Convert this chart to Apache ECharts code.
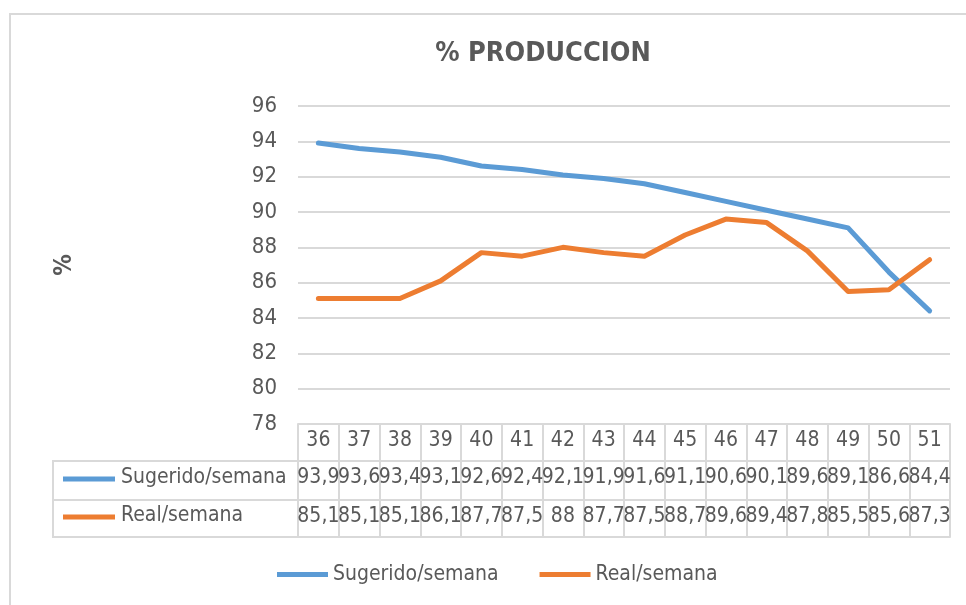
<!DOCTYPE html>
<html>
<head>
<meta charset="utf-8">
<script src="https://cdn.jsdelivr.net/npm/echarts@6/dist/echarts.min.js"></script>
<style>
  html, body { margin: 0; padding: 0; background: #fff; }
  #chart { width: 966px; height: 605px; }
</style>
</head>
<body>
<div id="chart"></div>
<script>
// weeks and weekly production (%)
const weeks = ['36', '37', '38', '39', '40', '41', '42', '43', '44', '45', '46', '47', '48', '49', '50', '51'];
const sugerido = [93.9, 93.6, 93.4, 93.1, 92.6, 92.4, 92.1, 91.9, 91.6, 91.1, 90.6, 90.1, 89.6, 89.1, 86.6, 84.4];
const real = [85.1, 85.1, 85.1, 86.1, 87.7, 87.5, 88, 87.7, 87.5, 88.7, 89.6, 89.4, 87.8, 85.5, 85.6, 87.3];
const seriesNames = ['Sugerido/semana', 'Real/semana'];
const yMin = 78, yMax = 96, yStep = 2;

const FONT = "'DejaVu Sans Condensed', 'DejaVu Sans', sans-serif";
const TXT = '#595959';
const GRID = '#d9d9d9';
const BLUE = '#5B9BD5';
const ORANGE = '#ED7D31';

const fmt = v => String(v).replace('.', ',');

const chart = echarts.init(document.getElementById('chart'));

const tableAxis = (data, offset, extra) => Object.assign({
    type: 'category',
    gridIndex: 0,
    position: 'bottom',
    offset: offset,
    data: data,
    boundaryGap: true,
    axisLine: { show: true, lineStyle: { color: GRID, width: 2 } },
    axisTick: { show: false },
    axisLabel: {
        interval: 0, margin: 6, color: TXT, fontFamily: FONT, fontSize: 21
    },
    splitLine: { show: false }
}, extra || {});

chart.setOption({
    animation: false,
    title: {
        text: '% PRODUCCION',
        left: 538,
        textAlign: 'center',
        top: 35,
        textStyle: { color: TXT, fontFamily: FONT, fontSize: 27, fontWeight: 'bold' }
    },
    legend: {
        data: seriesNames,
        left: 272,
        top: 559,
        icon: 'rect',
        itemWidth: 51,
        itemHeight: 5,
        itemGap: 41,
        textStyle: { color: TXT, fontFamily: FONT, fontSize: 21 }
    },
    grid: { left: 298, right: 16, top: 106, bottom: 181, containLabel: false },
    xAxis: [
        tableAxis(weeks, 0, {
            axisTick: { show: true, interval: 0, length: 113, lineStyle: { color: GRID, width: 2 } }
        }),
        tableAxis(sugerido.map(fmt), 37),
        tableAxis(real.map(fmt), 76),
        tableAxis(weeks, 113, { axisLabel: { show: false } })
    ],
    yAxis: {
        type: 'value',
        min: yMin,
        max: yMax,
        interval: yStep,
        name: '%',
        nameLocation: 'middle',
        nameRotate: 90,
        nameGap: 221,
        nameTextStyle: { color: TXT, fontFamily: FONT, fontSize: 24, fontWeight: 'bold' },
        axisLine: { show: false },
        axisTick: { show: false },
        axisLabel: { color: TXT, fontFamily: FONT, fontSize: 22, margin: 21 },
        splitLine: { lineStyle: { color: GRID, width: 2 } }
    },
    series: [
        {
            name: seriesNames[0], type: 'line', data: sugerido, xAxisIndex: 0,
            showSymbol: false, symbol: 'none',
            lineStyle: { color: BLUE, width: 5, join: 'round', cap: 'round' },
            itemStyle: { color: BLUE }
        },
        {
            name: seriesNames[1], type: 'line', data: real, xAxisIndex: 0,
            showSymbol: false, symbol: 'none',
            lineStyle: { color: ORANGE, width: 5, join: 'round', cap: 'round' },
            itemStyle: { color: ORANGE }
        }
    ],
    graphic: [
        // outer chart border
        { type: 'rect', shape: { x: 10, y: 14, width: 1000, height: 700 }, style: { fill: 'none', stroke: GRID, lineWidth: 2 }, silent: true },
        // legend-key column of the data table
        { type: 'polyline', shape: { points: [[298, 461], [53, 461], [53, 537], [298, 537]] }, style: { fill: 'none', stroke: GRID, lineWidth: 2 }, silent: true },
        { type: 'line', shape: { x1: 53, y1: 500, x2: 298, y2: 500 }, style: { stroke: GRID, lineWidth: 2 }, silent: true },
        { type: 'line', shape: { x1: 63, y1: 479, x2: 115, y2: 479 }, style: { stroke: BLUE, lineWidth: 5 }, silent: true },
        { type: 'line', shape: { x1: 63, y1: 517, x2: 115, y2: 517 }, style: { stroke: ORANGE, lineWidth: 5 }, silent: true },
        { type: 'text', x: 121, y: 478, style: { text: seriesNames[0], fill: TXT, font: '21px ' + FONT, textVerticalAlign: 'middle' }, silent: true },
        { type: 'text', x: 121, y: 516, style: { text: seriesNames[1], fill: TXT, font: '21px ' + FONT, textVerticalAlign: 'middle' }, silent: true }
    ]
});
</script>
</body>
</html>
